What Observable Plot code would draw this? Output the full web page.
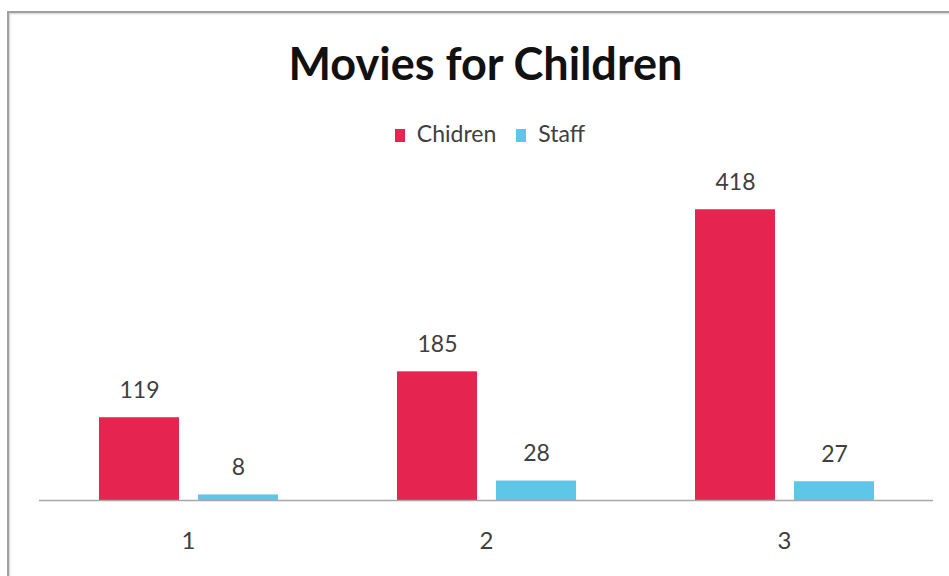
<!DOCTYPE html>
<html>
<head>
<meta charset="utf-8">
<script src="https://cdn.jsdelivr.net/npm/d3@7"></script>
<script src="https://cdn.jsdelivr.net/npm/@observablehq/plot@0.6"></script>
<style>
  html, body { margin: 0; padding: 0; background: #fff; overflow: hidden; width: 949px; height: 576px; }
  #frame { position: absolute; left: 7px; top: 11px; width: 1200px; height: 800px;
           border-top: 2px solid #a0a0a0; border-left: 2px solid #a0a0a0;
           box-shadow: inset 1px 1px 2px #d0d0d0; pointer-events: none; }
  #title { position: absolute; left: 0; top: 37px; width: 971px; text-align: center;
           font-family: Lato, "Open Sans", sans-serif; font-weight: bold; font-size: 45px;
           line-height: 52px; color: #111; }
  #legend { position: absolute; left: 0; top: 119px; width: 980px; text-align: center;
            font-family: Lato, "Open Sans", sans-serif; font-size: 23px; line-height: 28px; color: #404040; }
  #legend span.item { display: inline-block; margin: 0 10px; }
  #legend span.sw { display: inline-block; width: 10px; height: 13px; margin-right: 12px; vertical-align: 0px; }
  #chart { position: absolute; left: 0; top: 160px; }
</style>
</head>
<body>
<div id="title">Movies for Children</div>
<div id="legend"></div>
<div id="chart"></div>
<div id="frame"></div>
<script>
const groups = ["1", "2", "3"];
const series = ["Chidren", "Staff"];
const childrenValues = [119, 185, 418];
const staffValues = [8, 28, 27];
const colors = ["#E5254F", "#5EC7E8"];

const rows = [];
groups.forEach((g, i) => {
  rows.push({group: g, series: series[0], value: childrenValues[i]});
  rows.push({group: g, series: series[1], value: staffValues[i]});
});

// legend
const legend = document.getElementById("legend");
series.forEach((s, i) => {
  const item = document.createElement("span");
  item.className = "item";
  const sw = document.createElement("span");
  sw.className = "sw";
  sw.style.background = colors[i];
  item.appendChild(sw);
  item.appendChild(document.createTextNode(s));
  legend.appendChild(item);
});

const chart = Plot.plot({
  width: 949,
  height: 416,
  marginLeft: 38,
  marginRight: 15,
  marginTop: 27,
  marginBottom: 76,
  fx: {domain: groups, padding: 0, label: null, axis: "bottom", tickSize: 0, tickPadding: 31, fontSize: 24},
  x: {domain: series, paddingInner: 0.196, paddingOuter: 0.598, axis: null},
  y: {domain: [0, 450], axis: null},
  color: {domain: series, range: colors},
  style: {fontFamily: "Lato, 'Open Sans', sans-serif", fontSize: "24px", color: "#404040", background: "transparent"},
  marks: [
    Plot.barY(rows, {fx: "group", x: "series", y: "value", fill: "series"}),
    Plot.ruleY([0], {stroke: "#a6a6a6", strokeWidth: 1.5}),
    Plot.text(rows, {fx: "group", x: "series", y: "value", text: d => String(d.value), dy: -27,
                     fill: "#404040", fontSize: 23})
  ]
});
document.getElementById("chart").appendChild(chart);
</script>
</body>
</html>
